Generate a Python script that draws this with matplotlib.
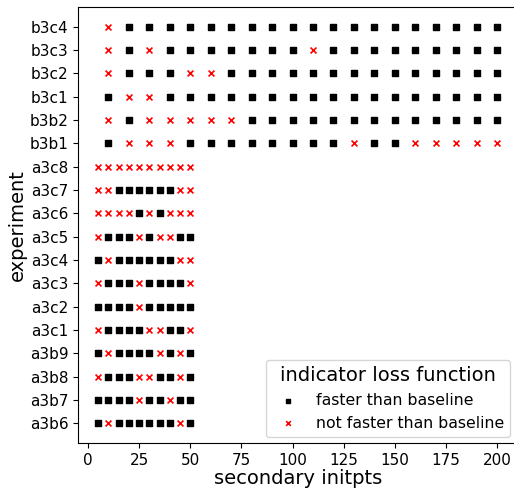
import numpy as np
import matplotlib
matplotlib.use('Agg')
import matplotlib.pyplot as plt

# experiments, bottom to top
experiments = ['a3b6', 'a3b7', 'a3b8', 'a3b9', 'a3c1', 'a3c2', 'a3c3', 'a3c4',
               'a3c5', 'a3c6', 'a3c7', 'a3c8',
               'b3b1', 'b3b2', 'b3c1', 'b3c2', 'b3c3', 'b3c4']

# secondary initpts tried for each family
a3_initpts = [5, 10, 15, 20, 25, 30, 35, 40, 45, 50]
b3_initpts = [10, 20, 30, 40, 50, 60, 70, 80, 90, 100,
              110, 120, 130, 140, 150, 160, 170, 180, 190, 200]

# 1 = faster than baseline, 0 = not faster
faster = [
    [1, 0, 1, 1, 1, 1, 1, 1, 0, 1],  # a3b6
    [1, 1, 1, 1, 0, 1, 1, 0, 1, 1],  # a3b7
    [0, 1, 1, 1, 0, 0, 1, 1, 0, 1],  # a3b8
    [1, 0, 1, 1, 1, 1, 0, 1, 0, 1],  # a3b9
    [0, 1, 1, 1, 1, 0, 0, 1, 1, 0],  # a3c1
    [1, 1, 1, 1, 0, 1, 1, 1, 1, 1],  # a3c2
    [0, 1, 1, 1, 0, 1, 1, 1, 1, 0],  # a3c3
    [1, 0, 1, 1, 1, 1, 1, 1, 0, 0],  # a3c4
    [0, 1, 1, 1, 0, 1, 0, 0, 1, 1],  # a3c5
    [0, 0, 0, 0, 1, 0, 1, 0, 0, 0],  # a3c6
    [0, 0, 1, 1, 1, 1, 1, 1, 0, 0],  # a3c7
    [0, 0, 0, 0, 0, 0, 0, 0, 0, 0],  # a3c8
    [1, 0, 0, 0, 1, 1, 1, 1, 1, 1, 1, 1, 0, 1, 1, 0, 0, 0, 0, 0],  # b3b1
    [0, 1, 0, 0, 0, 0, 0, 1, 1, 1, 1, 1, 1, 1, 1, 1, 1, 1, 1, 1],  # b3b2
    [1, 0, 0, 1, 1, 1, 1, 1, 1, 1, 1, 1, 1, 1, 1, 1, 1, 1, 1, 1],  # b3c1
    [0, 1, 1, 1, 0, 0, 1, 1, 1, 1, 1, 1, 1, 1, 1, 1, 1, 1, 1, 1],  # b3c2
    [0, 1, 0, 1, 1, 1, 1, 1, 1, 1, 0, 1, 1, 1, 1, 1, 1, 1, 1, 1],  # b3c3
    [0, 1, 1, 1, 1, 1, 1, 1, 1, 1, 1, 1, 1, 1, 1, 1, 1, 1, 1, 1],  # b3c4
]

fast_x, fast_y, slow_x, slow_y = [], [], [], []
for i, name in enumerate(experiments):
    xs = a3_initpts if name.startswith('a3') else b3_initpts
    for x, f in zip(xs, faster[i]):
        if f:
            fast_x.append(x)
            fast_y.append(i)
        else:
            slow_x.append(x)
            slow_y.append(i)

fig = plt.figure(figsize=(5.14, 4.91), dpi=100)
ax = fig.add_axes([78.3 / 514, 48 / 491, (517 - 78.3) / 514, 436 / 491])

ax.scatter(fast_x, fast_y, marker='s', s=20, color='black',
           label='faster than baseline')
ax.scatter(slow_x, slow_y, marker='x', s=18, color='red', linewidths=1.2,
           label='not faster than baseline')

ax.set_yticks(range(len(experiments)))
ax.set_yticklabels(experiments)
ax.set_xticks([0, 25, 50, 75, 100, 125, 150, 175, 200])
ax.tick_params(labelsize=11)
ax.set_xlabel('secondary initpts', fontsize=14, labelpad=1)
ax.set_ylabel('experiment', fontsize=14, labelpad=2)

leg = ax.legend(title='indicator loss function', loc='lower right',
                fontsize=11.3, title_fontsize=14, markerscale=0.8,
                bbox_to_anchor=(1.003, -0.004))

plt.savefig('out.png', dpi=100)
